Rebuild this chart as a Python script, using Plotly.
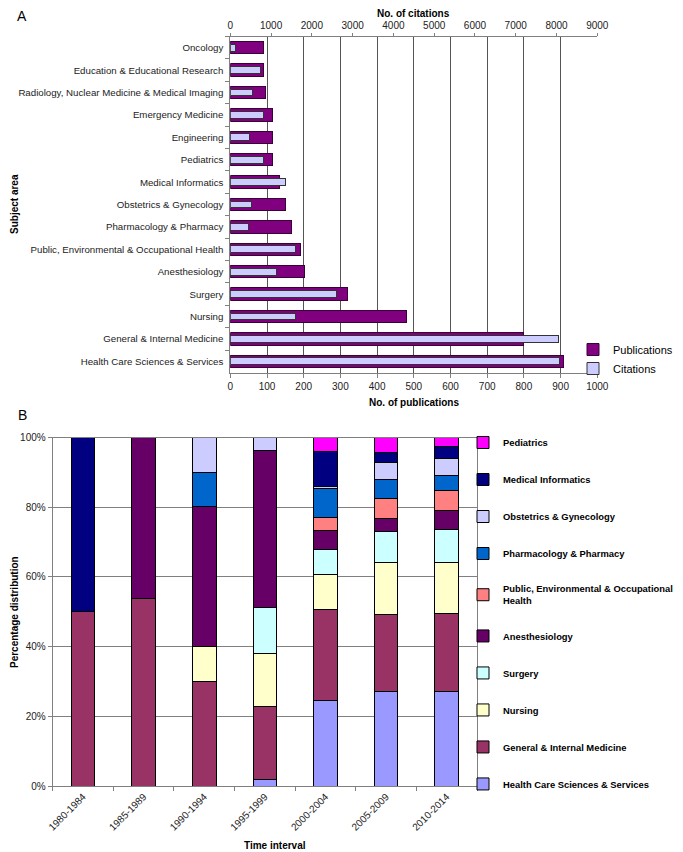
import plotly.graph_objects as go

# Panel A: subject areas, publications vs citations
subjects = ["Oncology", "Education & Educational Research",
            "Radiology, Nuclear Medicine & Medical Imaging", "Emergency Medicine",
            "Engineering", "Pediatrics", "Medical Informatics", "Obstetrics & Gynecology",
            "Pharmacology & Pharmacy", "Public, Environmental & Occupational Health",
            "Anesthesiology", "Surgery", "Nursing", "General & Internal Medicine",
            "Health Care Sciences & Services"]
publications = [90, 90, 96, 114, 115, 115, 134, 151, 168, 190, 203, 319, 479, 800, 907]
citations = [120, 730, 540, 810, 460, 826, 1358, 515, 441, 1594, 1128, 2592, 1587, 8053, 8068]

# Panel B: percentage distribution per time interval
periods = ["1980-1984", "1985-1989", "1990-1994", "1995-1999",
           "2000-2004", "2005-2009", "2010-2014"]
health_care = [0, 0, 0, 2.0, 24.6, 27.1, 27.1]
general_med = [50.0, 53.8, 30.1, 20.7, 26.0, 22.0, 22.4]
nursing = [0, 0, 10.0, 15.2, 10.0, 14.9, 14.5]
surgery = [0, 0, 0, 13.2, 7.3, 8.9, 9.7]
anesthesiology = [0, 46.2, 40.0, 45.3, 5.5, 3.9, 5.3]
public_health = [0, 0, 0, 0, 3.6, 5.7, 5.9]
pharmacology = [0, 0, 10.0, 0, 8.3, 5.5, 4.1]
obstetrics = [0, 0, 9.9, 3.6, 0.7, 4.8, 5.0]
med_informatics = [50.0, 0, 0, 0, 10.1, 2.9, 3.3]
pediatrics = [0, 0, 0, 0, 3.8, 4.3, 2.7]

series_b = [
    ("Health Care Sciences & Services", health_care, "#9999FF"),
    ("General & Internal Medicine", general_med, "#993366"),
    ("Nursing", nursing, "#FFFFCC"),
    ("Surgery", surgery, "#CCFFFF"),
    ("Anesthesiology", anesthesiology, "#660066"),
    ("Public, Environmental & Occupational<br>Health", public_health, "#FF8080"),
    ("Pharmacology & Pharmacy", pharmacology, "#0066CC"),
    ("Obstetrics & Gynecology", obstetrics, "#CCCCFF"),
    ("Medical Informatics", med_informatics, "#000080"),
    ("Pediatrics", pediatrics, "#FF00FF"),
]

FONT = "Liberation Sans, Arial, sans-serif"
W, H = 683, 852
OFF = 8  # the page body adds an 8px margin, so shift everything up/left by that


def px_x(x):
    return (x - OFF) / W


def px_y(y):
    return 1 - (y - OFF) / H


fig = go.Figure()

fig.add_trace(go.Bar(y=subjects, x=publications, orientation="h", name="Publications",
                     marker=dict(color="#800080", line=dict(color="#3a003a", width=1)),
                     width=0.56, xaxis="x", yaxis="y", legend="legend"))
fig.add_trace(go.Bar(y=subjects, x=citations, orientation="h", name="Citations",
                     marker=dict(color="#CCCCFF", line=dict(color="#333333", width=1)),
                     width=0.3, xaxis="x3", yaxis="y", legend="legend"))

for i, (name, vals, col) in enumerate(series_b):
    fig.add_trace(go.Bar(x=periods, y=vals, name=name, legendgroup=name,
                         legendrank=100 - i,
                         marker=dict(color=col, line=dict(color="#000000", width=1)),
                         width=0.39, xaxis="x2", yaxis="y2", legend="legend2"))

axis_common = dict(showline=True, linecolor="#808080", linewidth=1, ticks="outside",
                   ticklen=4, tickcolor="#808080", tickfont=dict(size=10, color="#222"))

fig.update_layout(
    width=W, height=H, autosize=False,
    margin=dict(l=0, r=0, t=0, b=0, autoexpand=False),
    paper_bgcolor="white", plot_bgcolor="white",
    font=dict(family=FONT, size=10, color="#000"),
    barmode="stack",
    xaxis=dict(domain=[px_x(230.3), px_x(597.3)], range=[0, 1000], dtick=100,
               anchor="y", showgrid=True, gridcolor="#555555", gridwidth=1,
               zeroline=False, **axis_common),
    xaxis3=dict(overlaying="x", side="top", range=[0, 9000], dtick=1000, anchor="y",
                showgrid=False, zeroline=False, **dict(axis_common, ticklen=3)),
    yaxis=dict(domain=[px_y(372.5), px_y(36.5)], anchor="x", autorange="reversed",
               categoryorder="array", categoryarray=subjects, tickson="boundaries",
               showgrid=False, ticklabelstandoff=4,
               **dict(axis_common, tickfont=dict(size=9.7, color="#222"))),
    xaxis2=dict(domain=[px_x(52.7), px_x(477)], anchor="y2", tickangle=-45,
                tickson="boundaries", showgrid=False, mirror=True, **axis_common),
    yaxis2=dict(domain=[px_y(786), px_y(437.5)], anchor="x2", range=[0, 100], dtick=20,
                ticksuffix="%", showgrid=True, gridcolor="#808080", zeroline=False,
                mirror=True, **axis_common),
    legend=dict(x=px_x(573), y=px_y(335), xanchor="left", yanchor="top",
                traceorder="normal", font=dict(size=11), bgcolor="rgba(0,0,0,0)"),
    legend2=dict(x=px_x(463), y=px_y(428), xanchor="left", yanchor="top",
                 traceorder="grouped", tracegroupgap=18,
                 font=dict(size=9.4, weight="bold"), bgcolor="rgba(0,0,0,0)"),
    showlegend=True,
)

title_font = dict(family=FONT, size=10, color="#000")
annotations = [
    dict(text="A", x=px_x(22), y=px_y(16), font=dict(family=FONT, size=14)),
    dict(text="<b>No. of citations</b>", x=px_x(413.8), y=px_y(14), font=title_font),
    dict(text="<b>No. of publications</b>", x=px_x(413.8), y=px_y(402), font=title_font),
    dict(text="<b>Subject area</b>", x=px_x(14), y=px_y(204), textangle=-90, font=title_font),
    dict(text="B", x=px_x(22), y=px_y(415), font=dict(family=FONT, size=14)),
    dict(text="<b>Percentage distribution</b>", x=px_x(14), y=px_y(612), textangle=-90,
         font=title_font),
    dict(text="<b>Time interval</b>", x=px_x(275), y=px_y(845), font=title_font),
]
for a in annotations:
    fig.add_annotation(xref="paper", yref="paper", showarrow=False,
                       xanchor="center", yanchor="middle", **a)

fig.write_html("out.html")
